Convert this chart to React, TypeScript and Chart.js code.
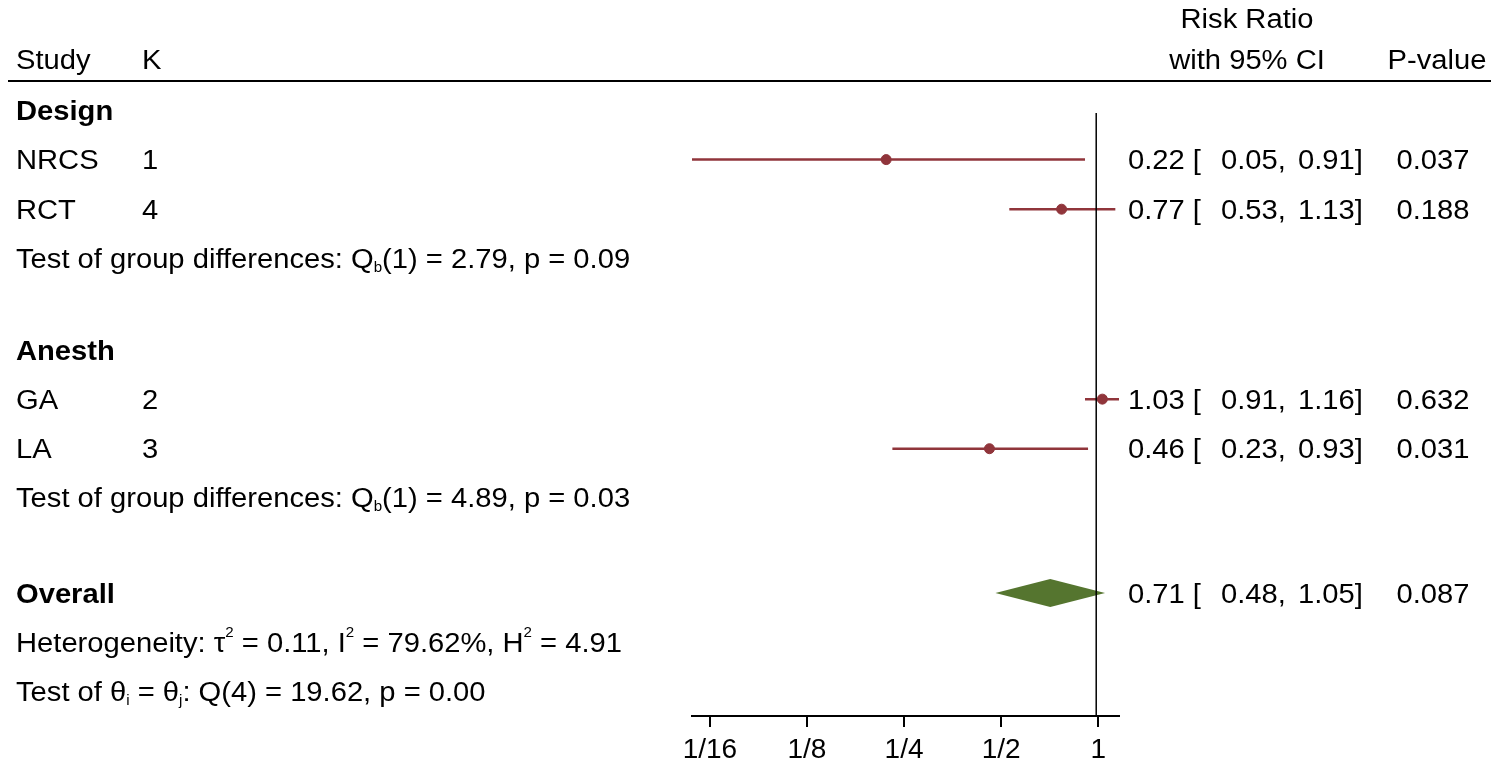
import React, { useEffect, useRef } from "react";
import { Chart, registerables } from "chart.js";

Chart.register(...registerables);

// ---------- data ----------
const studyLabels = ["NRCS", "RCT", "GA", "LA"];
const studyK = ["1", "4", "2", "3"];
const studyEst = [0.22, 0.77, 1.03, 0.46];
const studyLow = [0.05, 0.53, 0.91, 0.23];
const studyHigh = [0.91, 1.13, 1.16, 0.93];
const studyP = ["0.037", "0.188", "0.632", "0.031"];
const studyRows = [1, 2, 5.83, 6.83];

const groupLabels = ["Design", "Anesth"];
const groupRows = [0, 4.84];
const groupTestQ = ["2.79", "4.89"];
const groupTestP = ["0.09", "0.03"];
const groupTestRows = [3, 7.82];

const overallLabel = "Overall";
const overallEst = 0.71;
const overallLow = 0.48;
const overallHigh = 1.05;
const overallP = "0.087";
const overallRow = 9.74;
const heterogeneityRow = 10.73;
const thetaTestRow = 11.73;

const tickValues = [1 / 16, 1 / 8, 1 / 4, 1 / 2, 1];
const tickLabels = ["1/16", "1/8", "1/4", "1/2", "1"];

// ---------- style ----------
const FONT = "'Liberation Sans', Arial, Helvetica, sans-serif";
const FS = 27;
const SX = 1.08;
const CAP_HALF = 9.5;
const CI_COLOR = "#90353b";
const DIAMOND_COLOR = "#55752f";

type Part = [string, "" | "sub" | "sup"];

function txt(ctx: CanvasRenderingContext2D, t: string, x: number, y: number) {
  ctx.save();
  ctx.translate(x, y);
  ctx.scale(SX, 1);
  ctx.fillText(t, 0, 0);
  ctx.restore();
}

function drawRich(ctx: CanvasRenderingContext2D, x: number, base: number, parts: Part[], weight = "normal") {
  let cx = x;
  ctx.textAlign = "left";
  for (const [t, m] of parts) {
    const fs = m ? Math.round(FS * 0.52) : FS;
    ctx.font = `${weight} ${fs}px ${FONT}`;
    const dy = m === "sub" ? 4 : m === "sup" ? -15 : 0;
    txt(ctx, t, cx, base + dy);
    cx += ctx.measureText(t).width * SX;
  }
}

const forestPlugin = {
  id: "forestText",
  beforeDatasetsDraw(chart: any) {
    const ctx: CanvasRenderingContext2D = chart.ctx;
    const xs = chart.scales.x;
    const ys = chart.scales.y;
    const yc = ys.getPixelForValue(overallRow);
    const xl = xs.getPixelForValue(overallLow);
    const xm = xs.getPixelForValue(overallEst);
    const xh = xs.getPixelForValue(overallHigh);
    ctx.save();
    ctx.fillStyle = DIAMOND_COLOR;
    ctx.beginPath();
    ctx.moveTo(xl, yc);
    ctx.lineTo(xm, yc - 14);
    ctx.lineTo(xh, yc);
    ctx.lineTo(xm, yc + 14);
    ctx.closePath();
    ctx.fill();
    ctx.restore();
  },
  afterDraw(chart: any) {
    const ctx: CanvasRenderingContext2D = chart.ctx;
    const xs = chart.scales.x;
    const ys = chart.scales.y;
    const area = chart.chartArea;
    ctx.save();
    const x1 = xs.getPixelForValue(1);
    ctx.strokeStyle = "#000";
    ctx.lineWidth = 1.5;
    ctx.beginPath();
    ctx.moveTo(x1 - 2, area.top);
    ctx.lineTo(x1 - 2, area.bottom);
    ctx.stroke();

    ctx.lineWidth = 2;
    ctx.beginPath();
    ctx.moveTo(8, 81);
    ctx.lineTo(1491, 81);
    ctx.stroke();

    ctx.fillStyle = "#000";
    ctx.textBaseline = "alphabetic";
    const base = (row: number) => ys.getPixelForValue(row) + CAP_HALF;

    ctx.font = `normal ${FS}px ${FONT}`;
    ctx.textAlign = "left";
    txt(ctx, "Study", 16, 59 + CAP_HALF);
    txt(ctx, "K", 142, 59 + CAP_HALF);
    ctx.textAlign = "center";
    txt(ctx, "Risk Ratio", 1247, 18 + CAP_HALF);
    txt(ctx, "with 95% CI", 1247, 59 + CAP_HALF);
    txt(ctx, "P-value", 1437, 59 + CAP_HALF);

    const estCols = (est: number, lo: number, hi: number, p: string, b: number) => {
      ctx.font = `normal ${FS}px ${FONT}`;
      ctx.textAlign = "left";
      txt(ctx, `${est.toFixed(2)} [`, 1128, b);
      txt(ctx, `${lo.toFixed(2)},`, 1221, b);
      txt(ctx, `${hi.toFixed(2)}]`, 1298, b);
      ctx.textAlign = "center";
      txt(ctx, p, 1433, b);
      ctx.textAlign = "left";
    };

    groupLabels.forEach((g, i) => {
      ctx.font = `bold ${FS}px ${FONT}`;
      ctx.textAlign = "left";
      txt(ctx, g, 16, base(groupRows[i]));
      drawRich(ctx, 16, base(groupTestRows[i]), [
        ["Test of group differences: Q", ""],
        ["b", "sub"],
        [`(1) = ${groupTestQ[i]}, p = ${groupTestP[i]}`, ""],
      ]);
    });
    studyLabels.forEach((s, i) => {
      const b = base(studyRows[i]);
      ctx.font = `normal ${FS}px ${FONT}`;
      ctx.textAlign = "left";
      txt(ctx, s, 16, b);
      txt(ctx, studyK[i], 142, b);
      estCols(studyEst[i], studyLow[i], studyHigh[i], studyP[i], b);
    });
    ctx.font = `bold ${FS}px ${FONT}`;
    ctx.textAlign = "left";
    txt(ctx, overallLabel, 16, base(overallRow));
    estCols(overallEst, overallLow, overallHigh, overallP, base(overallRow));
    drawRich(ctx, 16, base(heterogeneityRow), [
      ["Heterogeneity: \u03c4", ""],
      ["2", "sup"],
      [" = 0.11, I", ""],
      ["2", "sup"],
      [" = 79.62%, H", ""],
      ["2", "sup"],
      [" = 4.91", ""],
    ]);
    drawRich(ctx, 16, base(thetaTestRow), [
      ["Test of \u03b8", ""],
      ["i", "sub"],
      [" = \u03b8", ""],
      ["j", "sub"],
      [": Q(4) = 19.62, p = 0.00", ""],
    ]);
    ctx.restore();
  },
};

export default function App() {
  const ref = useRef<HTMLCanvasElement | null>(null);
  useEffect(() => {
    document.body.style.margin = "0";
    const canvas = ref.current!;
    const ciSets = studyLabels.map((s, i) => ({
      type: "line" as const,
      label: s + " CI",
      data: [
        { x: studyLow[i], y: studyRows[i] },
        { x: studyHigh[i], y: studyRows[i] },
      ],
      borderColor: CI_COLOR,
      borderWidth: 2.5,
      pointRadius: 0,
      showLine: true,
    }));
    const chart = new Chart(canvas, {
      type: "scatter",
      data: {
        datasets: [
          ...ciSets,
          {
            type: "scatter" as const,
            label: "Estimates",
            data: studyLabels.map((_, i) => ({ x: studyEst[i], y: studyRows[i] })),
            backgroundColor: CI_COLOR,
            borderColor: CI_COLOR,
            pointRadius: 5,
          },
        ] as any,
      },
      options: {
        responsive: false,
        animation: false,
        devicePixelRatio: 1,
        layout: { padding: { left: 692, right: 372, top: 113, bottom: 0 } },
        plugins: { legend: { display: false }, tooltip: { enabled: false } },
        scales: {
          x: {
            type: "logarithmic",
            min: 0.055,
            max: 1.16,
            afterBuildTicks: (axis: any) => {
              axis.ticks = tickValues.map((v) => ({ value: v }));
            },
            afterFit: (axis: any) => {
              axis.height = 46;
            },
            ticks: {
              autoSkip: false,
              maxRotation: 0,
              color: "#000",
              padding: 10,
              font: { family: FONT, size: 28, lineHeight: 0.95 },
              callback: (v: any) => {
                const idx = tickValues.findIndex((t) => Math.abs(t - Number(v)) < 1e-9);
                return idx >= 0 ? tickLabels[idx] : "";
              },
            },
            grid: { drawOnChartArea: false, drawTicks: true, tickLength: 11, color: "#000", lineWidth: 2 },
            border: { display: true, color: "#000", width: 2 },
          },
          y: {
            type: "linear",
            display: false,
            reverse: true,
            min: 0.06,
            max: 12.22,
          },
        },
      },
      plugins: [forestPlugin],
    } as any);
    return () => chart.destroy();
  }, []);
  return <canvas ref={ref} width={1491} height={762} style={{ display: "block" }} />;
}
